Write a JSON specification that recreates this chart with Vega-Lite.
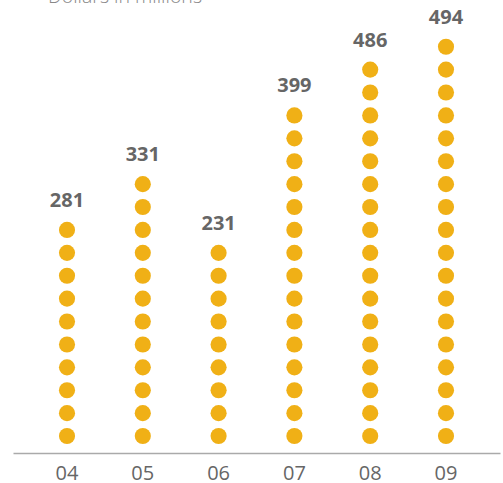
{
  "$schema": "https://vega.github.io/schema/vega-lite/v6.json",
  "width": 487,
  "height": 453,
  "autosize": {"type": "none"},
  "padding": {"left": 13, "top": 0, "right": 3, "bottom": 30},
  "background": "white",
  "title": {"text": "Dollars in millions", "anchor": "start", "baseline": "alphabetic", "offset": 0, "dy": 22, "dx": 35, "font": "Open Sans", "fontSize": 19.5, "fontWeight": 300, "color": "#888888"},
  "config": {"view": {"stroke": null}},
  "datasets": {
    "dots": [
      {"year": "04", "i": 1}, {"year": "04", "i": 2}, {"year": "04", "i": 3}, {"year": "04", "i": 4}, {"year": "04", "i": 5},
      {"year": "04", "i": 6}, {"year": "04", "i": 7}, {"year": "04", "i": 8}, {"year": "04", "i": 9}, {"year": "04", "i": 10},
      {"year": "05", "i": 1}, {"year": "05", "i": 2}, {"year": "05", "i": 3}, {"year": "05", "i": 4}, {"year": "05", "i": 5},
      {"year": "05", "i": 6}, {"year": "05", "i": 7}, {"year": "05", "i": 8}, {"year": "05", "i": 9}, {"year": "05", "i": 10},
      {"year": "05", "i": 11}, {"year": "05", "i": 12},
      {"year": "06", "i": 1}, {"year": "06", "i": 2}, {"year": "06", "i": 3}, {"year": "06", "i": 4}, {"year": "06", "i": 5},
      {"year": "06", "i": 6}, {"year": "06", "i": 7}, {"year": "06", "i": 8}, {"year": "06", "i": 9},
      {"year": "07", "i": 1}, {"year": "07", "i": 2}, {"year": "07", "i": 3}, {"year": "07", "i": 4}, {"year": "07", "i": 5},
      {"year": "07", "i": 6}, {"year": "07", "i": 7}, {"year": "07", "i": 8}, {"year": "07", "i": 9}, {"year": "07", "i": 10},
      {"year": "07", "i": 11}, {"year": "07", "i": 12}, {"year": "07", "i": 13}, {"year": "07", "i": 14}, {"year": "07", "i": 15},
      {"year": "08", "i": 1}, {"year": "08", "i": 2}, {"year": "08", "i": 3}, {"year": "08", "i": 4}, {"year": "08", "i": 5},
      {"year": "08", "i": 6}, {"year": "08", "i": 7}, {"year": "08", "i": 8}, {"year": "08", "i": 9}, {"year": "08", "i": 10},
      {"year": "08", "i": 11}, {"year": "08", "i": 12}, {"year": "08", "i": 13}, {"year": "08", "i": 14}, {"year": "08", "i": 15},
      {"year": "08", "i": 16}, {"year": "08", "i": 17},
      {"year": "09", "i": 1}, {"year": "09", "i": 2}, {"year": "09", "i": 3}, {"year": "09", "i": 4}, {"year": "09", "i": 5},
      {"year": "09", "i": 6}, {"year": "09", "i": 7}, {"year": "09", "i": 8}, {"year": "09", "i": 9}, {"year": "09", "i": 10},
      {"year": "09", "i": 11}, {"year": "09", "i": 12}, {"year": "09", "i": 13}, {"year": "09", "i": 14}, {"year": "09", "i": 15},
      {"year": "09", "i": 16}, {"year": "09", "i": 17}, {"year": "09", "i": 18}
    ],
    "labels": [
      {"year": "04", "value": 281, "count": 10},
      {"year": "05", "value": 331, "count": 12},
      {"year": "06", "value": 231, "count": 9},
      {"year": "07", "value": 399, "count": 15},
      {"year": "08", "value": 486, "count": 17},
      {"year": "09", "value": 494, "count": 18}
    ]
  },
  "encoding": {
    "x": {
      "field": "year", "type": "ordinal",
      "scale": {"type": "band", "paddingInner": 0, "paddingOuter": 0.2125},
      "axis": {"title": null, "ticks": false, "labelAngle": 0, "labelFont": "Open Sans", "labelFontSize": 20, "labelColor": "#666666", "labelPadding": 10, "labelBaseline": "top", "domainColor": "#aaaaaa", "domainWidth": 1.5, "grid": false}
    }
  },
  "layer": [
    {
      "data": {"name": "dots"},
      "mark": {"type": "point", "filled": true, "opacity": 1, "size": 260, "color": "#F0B016", "shape": "circle"},
      "encoding": {
        "y": {"field": "i", "type": "quantitative", "scale": {"domain": [0.26, 20.04], "nice": false, "zero": false}, "axis": null}
      }
    },
    {
      "data": {"name": "labels"},
      "mark": {"type": "text", "font": "Open Sans", "fontSize": 20, "fontWeight": "bold", "color": "#666666", "dy": -29, "baseline": "middle"},
      "encoding": {
        "y": {"field": "count", "type": "quantitative"},
        "text": {"field": "value", "type": "quantitative"}
      }
    }
  ]
}
